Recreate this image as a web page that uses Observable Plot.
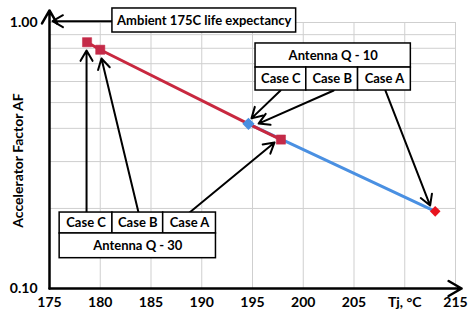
<!DOCTYPE html>
<html><head><meta charset="utf-8">
<script src="https://cdn.jsdelivr.net/npm/d3@7"></script>
<script src="https://cdn.jsdelivr.net/npm/@observablehq/plot@0.6"></script>
<style>body{margin:0;background:#fff}</style>
</head><body><div id="chart"></div>
<script>
// Data
const redTemps = [178.7, 180.0, 194.6, 197.8];
const redAF = [0.843, 0.79, 0.416, 0.363];
const blueTemps = [194.6, 213.0];
const blueAF = [0.416, 0.195];
const squareTemps = [178.7, 180.0, 197.8];
const squareAF = [0.843, 0.79, 0.363];
const xTicks = [175, 180, 185, 190, 195, 200, 205, 210, 215];
const yTicks = [0.1, 1];
const yGrid = [0.2, 0.3, 0.4, 0.5, 0.6, 0.7, 0.8, 0.9, 1.0];
const xGrid = [180, 185, 190, 195, 200, 205, 210, 215];
const yLabel = "Accelerator Factor AF";

// Annotations (in data units)
const ambientBox = {x1: 181.2, x2: 199.3, y1: 0.917, y2: 1.129, label: "Ambient 175C life expectancy"};
const ambientArrow = {x1: 181.2, y1: 1.011, x2: 175.3, y2: 1.011};
const q10Cells = [
  {x1: 195.3, x2: 210.6, y1: 0.677, y2: 0.834, label: "Antenna Q - 10"},
  {x1: 195.3, x2: 200.3, y1: 0.555, y2: 0.677, label: "Case C"},
  {x1: 200.3, x2: 205.4, y1: 0.555, y2: 0.677, label: "Case B"},
  {x1: 205.4, x2: 210.6, y1: 0.555, y2: 0.677, label: "Case A"}
];
const q30Cells = [
  {x1: 176.0, x2: 181.2, y1: 0.161, y2: 0.193, label: "Case C"},
  {x1: 181.2, x2: 186.2, y1: 0.161, y2: 0.193, label: "Case B"},
  {x1: 186.2, x2: 191.4, y1: 0.161, y2: 0.193, label: "Case A"},
  {x1: 176.0, x2: 191.4, y1: 0.130, y2: 0.161, label: "Antenna Q - 30"}
];
const pointerArrows = [
  {x1: 197.76, y1: 0.555, x2: 194.9, y2: 0.436},
  {x1: 203.0, y1: 0.555, x2: 195.6, y2: 0.417},
  {x1: 208.1, y1: 0.555, x2: 212.5, y2: 0.205},
  {x1: 178.65, y1: 0.193, x2: 178.65, y2: 0.785},
  {x1: 183.77, y1: 0.193, x2: 180.12, y2: 0.732},
  {x1: 188.8, y1: 0.193, x2: 197.17, y2: 0.354}
];
const axisArrows = [
  {x1: 175, y1: 0.1, x2: 215.6, y2: 0.1},
  {x1: 175, y1: 0.1, x2: 175, y2: 1.11}
];

const red = redTemps.map((t, i) => ({t, af: redAF[i]}));
const blue = blueTemps.map((t, i) => ({t, af: blueAF[i]}));
const squares = squareTemps.map((t, i) => ({t, af: squareAF[i]}));
const cells = [...q10Cells, ...q30Cells];
const mid = d => ({x: (d.x1 + d.x2) / 2, y: Math.sqrt(d.y1 * d.y2), label: d.label});

const chart = Plot.plot({
  width: 474, height: 321,
  marginLeft: 49, marginRight: 19, marginTop: 22, marginBottom: 33,
  style: {fontFamily: "Lato, 'Open Sans', sans-serif", fontWeight: "bold", fontSize: "14px", color: "#000", background: "#fff"},
  x: {domain: [175, 215], ticks: xTicks, tickSize: 0, tickPadding: 9,
      tickFormat: d => d === 210 ? "Tj, °C" : String(d), label: null},
  y: {type: "log", domain: [0.1, 1], ticks: yTicks, tickSize: 0, tickPadding: 12,
      tickFormat: d3.format(".2f"), label: null},
  marks: [
    Plot.ruleY(yGrid, {stroke: "#cfcfcf", strokeWidth: 1}),
    Plot.ruleX(xGrid, {y1: 0.1, y2: 1, stroke: "#cfcfcf", strokeWidth: 1}),
    Plot.line(blue, {x: "t", y: "af", stroke: "#4a90e2", strokeWidth: 3}),
    Plot.line(red, {x: "t", y: "af", stroke: "#c8283f", strokeWidth: 3}),
    Plot.dot(squares, {x: "t", y: "af", symbol: "square", r: 5.2, fill: "#c42a48", stroke: "#c42a48", strokeWidth: 0.5}),
    Plot.dot([blue[0]], {x: "t", y: "af", symbol: "diamond2", r: 5.5, fill: "#4a8fe0"}),
    Plot.dot([blue[1]], {x: "t", y: "af", symbol: "diamond2", r: 4.8, fill: "#e8141e"}),
    Plot.arrow(axisArrows, {x1: "x1", y1: "y1", x2: "x2", y2: "y2", stroke: "#000", strokeWidth: 2.5, headLength: 9, clip: false}),
    Plot.arrow(pointerArrows, {x1: "x1", y1: "y1", x2: "x2", y2: "y2", stroke: "#000", strokeWidth: 2, headLength: 9}),
    Plot.arrow([ambientArrow], {x1: "x1", y1: "y1", x2: "x2", y2: "y2", stroke: "#000", strokeWidth: 2, headLength: 9}),
    Plot.rect([ambientBox], {x1: "x1", x2: "x2", y1: "y1", y2: "y2", fill: "#fff", stroke: "#000", strokeWidth: 1.5}),
    Plot.text([mid(ambientBox)], {x: "x", y: "y", text: "label", fontSize: 13, fontWeight: "bold", fill: "#000"}),
    Plot.rect(cells, {x1: "x1", x2: "x2", y1: "y1", y2: "y2", fill: "#fff", stroke: "#000", strokeWidth: 1.5}),
    Plot.text(cells.map(mid), {x: "x", y: "y", text: "label", fontSize: 13, fontWeight: "bold", fill: "#000"}),
    Plot.text([yLabel], {frameAnchor: "left", textAnchor: "middle", text: d => d, rotate: -90, dx: -31, dy: 5, fontSize: 14, fontWeight: "bold", fill: "#000"})
  ]
});
document.getElementById("chart").appendChild(chart);
</script>
</body></html>
